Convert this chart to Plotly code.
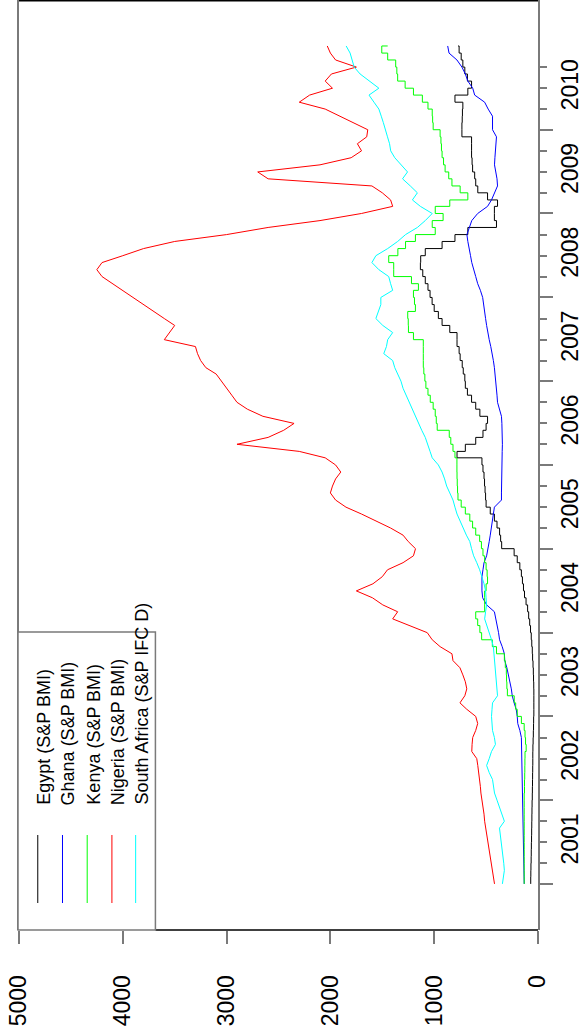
import pandas as pd
import plotly.graph_objects as go

# Monthly index levels, Jan 2001 .. Jan 2011
dates = pd.date_range("2001-01-01", periods=121, freq="MS")

egypt = [70, 69, 68, 66, 65, 64, 62, 61, 60, 59, 58, 57,
         55, 54, 53, 52, 51, 50, 50, 49, 47, 45, 43, 42,
         40, 40, 40, 40, 41, 43, 45, 48, 52, 55, 60, 65,
         72, 80, 90, 100, 115, 130, 140, 150, 160, 175, 200, 230,
         350, 360, 370, 395, 420, 460, 500, 505, 510, 515, 520, 530,
         540, 780, 700, 600, 530, 500, 486, 560, 600, 640, 680, 700,
         705, 720, 730, 750, 760, 780, 780, 850, 924, 960, 1000, 1020,
         1040, 1060, 1086, 1110, 1133, 1130, 1086, 924, 800, 676, 400, 420,
         420, 390, 486, 580, 600, 610, 630, 635, 640, 640, 640, 733,
         733, 730, 728, 724, 800, 676, 640, 680, 705, 724, 740, 760,
         770]

ghana = [133, 134, 135, 136, 137, 138, 140, 141, 142, 143, 144, 145,
         145, 147, 150, 152, 153, 154, 155, 157, 158, 160, 175, 195,
         200, 210, 230, 248, 257, 270, 285, 300, 320, 324, 345, 370,
         380, 395, 410, 420, 495, 533, 540, 543, 540, 530, 520, 495,
         486, 470, 460, 448, 440, 430, 420, 352, 352, 352, 352, 352,
         350, 348, 345, 343, 343, 345, 348, 352, 370, 390, 395, 400,
         405, 410, 420, 430, 440, 455, 470, 486, 495, 505, 515, 525,
         533, 555, 581, 600, 620, 638, 650, 665, 676, 685, 660, 638,
         581, 486, 448, 420, 390, 395, 405, 419, 415, 410, 405, 400,
         438, 438, 438, 480, 514, 610, 629, 676, 700, 733, 781, 857,
         870]

kenya = [133, 133, 133, 133, 133, 133, 133, 133, 133, 133, 133, 133,
         133, 130, 130, 128, 127, 126, 125, 114, 120, 125, 133, 160,
         200, 215, 229, 295, 300, 303, 305, 315, 324, 400, 440, 543,
         560, 581, 600, 514, 514, 514, 500, 486, 490, 500, 514, 530,
         545, 562, 600, 630, 657, 700, 740, 771, 775, 778, 780, 781,
         781, 800, 819, 840, 855, 971, 980, 990, 1010, 1038, 1060, 1080,
         1090, 1100, 1105, 1105, 1105, 1105, 1200, 1248, 1250, 1255, 1181, 1190,
         1200, 1152, 1219, 1390, 1390, 1438, 1350, 1276, 1181, 990, 1019, 914,
         990, 850, 676, 750, 829, 860, 895, 910, 924, 930, 935, 943,
         1010, 1015, 1019, 1060, 1114, 1200, 1280, 1352, 1360, 1371, 1448, 1505,
         1448]

nigeria = [419, 430, 440, 448, 460, 475, 485, 495, 505, 514, 520, 530,
           543, 550, 555, 562, 570, 580, 590, 638, 635, 629, 600, 581,
           600, 686, 752, 705, 686, 700, 724, 752, 819, 829, 943, 1019,
           1067, 1248, 1400, 1352, 1495, 1595, 1750, 1590, 1500, 1450, 1300, 1200,
           1180, 1250, 1300, 1420, 1550, 1700, 1850, 1950, 2000, 1980, 1950, 1900,
           1950, 2050, 2300, 2900, 2600, 2450, 2350, 2650, 2800, 2900, 2950, 3000,
           3050, 3100, 3200, 3250, 3280, 3300, 3600, 3550, 3500, 3600, 3700, 3800,
           3900, 4000, 4100, 4200, 4250, 4200, 4000, 3800, 3500, 3000, 2600, 2100,
           1700, 1400, 1420, 1500, 1600, 2600, 2700, 2100, 1800, 1700, 1740, 1650,
           1640, 1780, 1900, 2050, 2300, 2200, 1980, 2050, 1990, 1750, 1950, 2000,
           2030]

south_africa = [343, 335, 324, 330, 338, 345, 352, 362, 371, 324, 350, 371,
                395, 419, 430, 438, 470, 495, 470, 448, 410, 420, 438, 445,
                448, 443, 438, 390, 395, 400, 405, 410, 415, 419, 430, 448,
                470, 495, 514, 505, 495, 500, 505, 520, 540, 562, 590, 620,
                640, 657, 690, 720, 752, 780, 800, 819, 850, 880, 900, 924,
                960, 1019, 1040, 1060, 1086, 1120, 1150, 1181, 1210, 1240, 1276, 1300,
                1320, 1352, 1380, 1400, 1486, 1460, 1448, 1400, 1495, 1562, 1540, 1514,
                1514, 1400, 1420, 1438, 1533, 1600, 1562, 1448, 1352, 1276, 1162, 1086,
                1019, 1133, 1210, 1162, 1230, 1305, 1257, 1320, 1380, 1419, 1430, 1450,
                1467, 1490, 1510, 1533, 1580, 1628, 1533, 1620, 1714, 1771, 1790, 1810,
                1848]

series_names = ["Egypt (S&P BMI)", "Ghana (S&P BMI)", "Kenya (S&P BMI)",
                "Nigeria (S&P BMI)", "South Africa (S&P IFC D)"]
series_values = [egypt, ghana, kenya, nigeria, south_africa]
series_colors = ["#000000", "#0000FF", "#00FF00", "#FF0000", "#00FFFF"]
series_shapes = ["vh", "linear", "vh", "linear", "linear"]

value_ticks = [0, 1000, 2000, 3000, 4000, 5000]
years = list(range(2001, 2011))

FONT = "Liberation Sans, Arial, sans-serif"
GRAY = "#7a7a7a"


def decimal_year(y):
    yr = int(y)
    start = pd.Timestamp(f"{yr}-01-01")
    end = pd.Timestamp(f"{yr + 1}-01-01")
    return (start + (end - start) * (y - yr)).strftime("%Y-%m-%d %H:%M")


y_range = [decimal_year(2000.451), decimal_year(2011.549)]

fig = go.Figure()
for name, vals, col, shp in zip(series_names, series_values, series_colors, series_shapes):
    fig.add_trace(go.Scatter(x=vals, y=dates, mode="lines", name=name,
                             line=dict(color=col, width=1, shape=shp),
                             showlegend=False))

# carrier for the year-label axis
fig.add_trace(go.Scatter(x=[None], y=[None], yaxis="y2", showlegend=False, hoverinfo="skip"))

year_starts = [f"{y}-01-01" for y in years]
quarter_marks = [f"{y}-{m:02d}-01" for y in years for m in (4, 7, 10)]
mid_years = [f"{y}-07-01" for y in years]

fig.update_layout(
    width=583, height=1031,
    margin=dict(l=18, r=39, t=0, b=101),
    paper_bgcolor="white", plot_bgcolor="white",
    font=dict(family=FONT, color="black"),
    xaxis=dict(range=[5009.5, 0], tickmode="array", tickvals=value_ticks,
               ticktext=[str(v) for v in value_ticks],
               ticks="outside", ticklen=13, tickwidth=1.5, tickcolor=GRAY,
               tickangle=-90, tickfont=dict(size=23, family=FONT, color="black"),
               ticklabelstandoff=22,
               showline=False, showgrid=False, zeroline=False),
    yaxis=dict(type="date", range=y_range, side="right",
               tickmode="array", tickvals=year_starts, ticktext=[""] * len(year_starts),
               ticks="outside", ticklen=13, tickwidth=1.5, tickcolor=GRAY,
               minor=dict(tickmode="array", tickvals=quarter_marks, ticks="outside",
                          ticklen=7, tickwidth=1.5, tickcolor=GRAY, showgrid=False),
               showline=True, linecolor=GRAY, linewidth=2,
               showgrid=False, zeroline=False),
    yaxis2=dict(type="date", range=y_range, overlaying="y", side="right",
                tickmode="array", tickvals=mid_years, ticktext=[str(y) for y in years],
                ticks="", tickangle=-90, ticklabelstandoff=16,
                tickfont=dict(size=23, family=FONT, color="black"),
                showline=False, showgrid=False, zeroline=False),
)

PX_W, PX_H = 526.0, 930.0


def px(xp):
    return (xp - 18) / PX_W


def py(yp):
    return (930 - yp) / PX_H


shapes = [
    dict(type="line", xref="paper", yref="paper", x0=0, x1=1, y0=1, y1=1,
         line=dict(color="black", width=3)),
    dict(type="line", xref="paper", yref="paper", x0=0, x1=0, y0=0, y1=1,
         line=dict(color=GRAY, width=2)),
    dict(type="line", xref="paper", yref="paper", x0=px(157), x1=1, y0=0, y1=0,
         line=dict(color="black", width=1.3)),
    dict(type="rect", xref="paper", yref="paper", x0=0, x1=px(157), y0=0, y1=py(632),
         line=dict(color=GRAY, width=1.5), fillcolor="white", layer="above"),
]
annotations = []
legend_x = [38, 63, 88, 113, 137]
for lx, name, col in zip(legend_x, series_names, series_colors):
    shapes.append(dict(type="line", xref="paper", yref="paper", x0=px(lx), x1=px(lx),
                       y0=py(903), y1=py(835), line=dict(color=col, width=1), layer="above"))
    annotations.append(dict(xref="paper", yref="paper", x=px(lx + 6), y=py(807),
                            text=name, textangle=-90, showarrow=False,
                            xanchor="center", yanchor="bottom",
                            font=dict(size=18, family=FONT, color="black")))

fig.update_layout(shapes=shapes, annotations=annotations)
fig.write_html("out.html")
